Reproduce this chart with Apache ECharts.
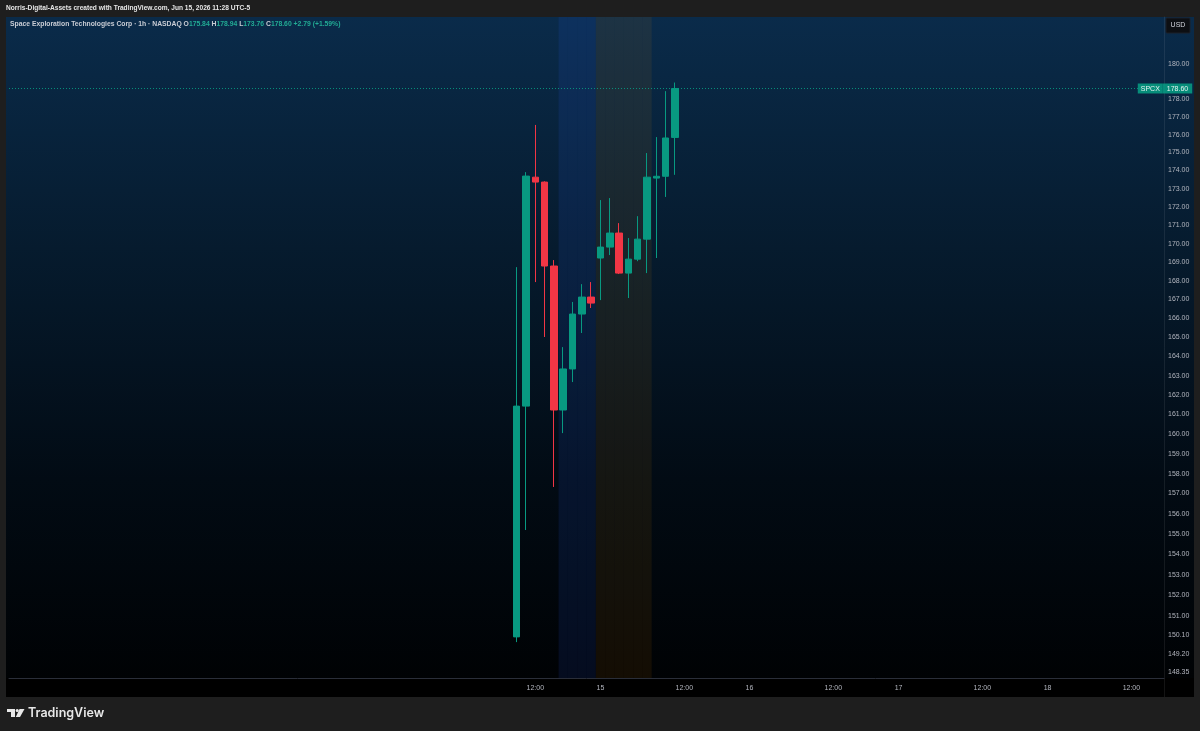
<!DOCTYPE html>
<html>
<head>
<meta charset="utf-8">
<script src="https://cdn.jsdelivr.net/npm/echarts@6/dist/echarts.min.js"></script>
<style>
html,body{margin:0;padding:0;background:#1e1e1e;}
#c{width:1200px;height:731px;}
</style>
</head>
<body>
<div id="c"></div>
<script>
// ---------- DATA ----------
const headerText = 'Norris-Digital-Assets created with TradingView.com, Jun 15, 2026 11:28 UTC-5';
const symbolName = 'Space Exploration Technologies Corp · 1h · NASDAQ';
const tickerLabel = 'SPCX';
const currencyLabel = 'USD';

// session hour slots (UTC-5, extended hours)
const sessionHours = [3, 4, 5, 6, 7, 8, 9, 10, 11, 12, 13, 14, 15, 16, 17, 18];
const axisDays = ['12', '15', '16', '17', '18'];
const firstDayFirstHour = 10;   // first traded bar on day 12
const lastDayLastHour = 15;     // right edge of the visible time scale
const leadingEmptySlots = 54;   // empty space left of the first bar

const barTimes = ['12 10:00', '12 11:00', '12 12:00', '12 13:00', '12 14:00', '12 15:00', '12 16:00', '12 17:00', '12 18:00',
                  '15 03:00', '15 04:00', '15 05:00', '15 06:00', '15 07:00', '15 08:00', '15 09:00', '15 10:00', '15 11:00'];
const opens  = [150.00, 161.43, 173.63, 173.36, 168.79, 161.23, 163.35, 166.23, 167.13, 169.22, 169.81, 170.57, 168.41, 169.16, 170.24, 173.58, 173.68, 175.84];
const highs  = [168.73, 173.91, 176.54, 173.40, 169.11, 164.49, 166.87, 167.82, 167.93, 172.37, 172.48, 171.11, 170.30, 171.49, 174.97, 175.86, 178.45, 178.94];
const lows   = [149.75, 155.19, 167.93, 165.02, 157.33, 160.05, 162.67, 165.23, 166.55, 166.97, 169.38, 168.36, 167.08, 169.05, 168.41, 169.22, 172.54, 173.76];
const closes = [161.43, 173.69, 173.36, 168.79, 161.23, 163.35, 166.23, 167.13, 166.81, 169.81, 170.57, 168.41, 169.16, 170.24, 173.63, 173.68, 175.81, 178.60];

const postMarketSlots = ['12 15:00', '12 16:00', '12 17:00', '12 18:00'];
const preMarketSlots  = ['15 03:00', '15 04:00', '15 05:00', '15 06:00', '15 07:00', '15 08:00'];

const yTickValues = [148.35, 149.20, 150.10, 151, 152, 153, 154, 155, 156, 157, 158, 159, 160, 161, 162, 163, 164, 165,
                     166, 167, 168, 169, 170, 171, 172, 173, 174, 175, 176, 177, 178, 180];
const yMin = 148.05, yMax = 182.71;

// ---------- BUILD ----------
const pad2 = h => (h < 10 ? '0' : '') + h;
const categories = [];
for (let i = 0; i < leadingEmptySlots; i++) categories.push('pad' + i);
axisDays.forEach((d, di) => {
  sessionHours.forEach(h => {
    if (di === 0 && h < firstDayFirstHour) return;
    if (di === axisDays.length - 1 && h > lastDayLastHour) return;
    categories.push(d + ' ' + pad2(h) + ':00');
  });
});

const candleData = barTimes.map((t, i) => [t, opens[i], closes[i], lows[i], highs[i]]);
const last = closes.length - 1;
const lastClose = closes[last];
const chg = closes[last] - closes[last - 1];
const chgPct = chg / closes[last - 1] * 100;

const UP = '#089981', DOWN = '#F23645';
const FONT = '"Liberation Sans", Arial, sans-serif';
const sign = v => (v >= 0 ? '+' : '') + v.toFixed(2);

const legendText =
  '{n|' + symbolName + '} ' +
  '{k|O}{v|' + opens[last].toFixed(2) + '} ' +
  '{k|H}{v|' + highs[last].toFixed(2) + '} ' +
  '{k|L}{v|' + lows[last].toFixed(2) + '} ' +
  '{k|C}{v|' + closes[last].toFixed(2) + '} ' +
  '{v|' + sign(chg) + ' (' + sign(chgPct) + '%)}';

const chart = echarts.init(document.getElementById('c'), null, {renderer: 'canvas'});

chart.setOption({
  backgroundColor: '#1e1e1e',
  animation: false,
  textStyle: {fontFamily: FONT},
  title: [
    {left: 6, top: 5, padding: 0, text: headerText,
     textStyle: {color: '#e6e6e6', fontSize: 6.6, fontWeight: 'bold', fontFamily: FONT}},
    {left: 10, top: 21, padding: 0, text: legendText,
     textStyle: {fontSize: 6.8, fontFamily: FONT,
       rich: {
         n: {color: '#c9ccd4', fontSize: 6.8, fontFamily: FONT},
         k: {color: '#c9ccd4', fontSize: 6.8, fontFamily: FONT},
         v: {color: '#22ab94', fontSize: 6.8, fontFamily: FONT}
       }}}
  ],
  graphic: [
    {type: 'rect', z: -10, silent: true, shape: {x: 6, y: 17, width: 1188, height: 661},
     style: {fill: new echarts.graphic.LinearGradient(0, 0, 0, 1, [
       {offset: 0, color: '#0a2b4a'},
       {offset: 0.35, color: '#061b2e'},
       {offset: 0.7, color: '#020b14'},
       {offset: 1, color: '#000204'}
     ])}},
    {type: 'rect', z: -10, silent: true, shape: {x: 6, y: 678, width: 1188, height: 19}, style: {fill: '#000000'}},
    {type: 'line', z: -5, silent: true, shape: {x1: 1164.5, y1: 678, x2: 1164.5, y2: 697}, style: {stroke: 'rgba(255,255,255,0.08)', lineWidth: 1}},
    {type: 'rect', silent: true, shape: {x: 1166, y: 18, width: 24, height: 15, r: 1}, style: {fill: '#0d0f13', stroke: '#1c2028'}},
    {type: 'text', silent: true, x: 1178, y: 25.5, style: {text: currencyLabel, fill: '#d1d4dc', font: '7px ' + FONT, align: 'center', verticalAlign: 'middle'}},
    // TradingView logo
    {type: 'rect', silent: true, shape: {x: 7, y: 709, width: 8, height: 3}, style: {fill: '#e8e8e8'}},
    {type: 'rect', silent: true, shape: {x: 11, y: 709, width: 4, height: 8}, style: {fill: '#e8e8e8'}},
    {type: 'circle', silent: true, shape: {cx: 17.2, cy: 710.5, r: 1.6}, style: {fill: '#e8e8e8'}},
    {type: 'polygon', silent: true, shape: {points: [[19.5, 709], [24.5, 709], [20, 717], [15.8, 717]]}, style: {fill: '#e8e8e8'}},
    {type: 'text', silent: true, x: 28, y: 713.5, style: {text: 'TradingView', fill: '#e8e8e8', font: '600 12.5px Inter, "Open Sans", sans-serif', verticalAlign: 'middle'}}
  ],
  grid: {left: 9, right: 36, top: 17, bottom: 53, containLabel: false, outerBoundsMode: 'none'},
  xAxis: {
    type: 'category',
    data: categories,
    boundaryGap: true,
    axisLine: {show: true, lineStyle: {color: '#2a2e39', width: 1}},
    axisTick: {show: false},
    splitLine: {show: false},
    axisLabel: {
      color: '#b2b5be', fontSize: 7, fontFamily: FONT, margin: 7,
      interval: (idx, val) => /\s(03|12):00$/.test(val),
      formatter: val => {
        const m = /^(\d+)\s(\d\d):00$/.exec(val);
        if (!m) return '';
        if (m[2] === '03') return m[1];
        if (m[2] === '12') return '12:00';
        return '';
      }
    }
  },
  yAxis: [
    {
      type: 'log', logBase: 10, min: yMin, max: yMax, position: 'right', scale: true,
      axisLine: {show: true, lineStyle: {color: 'rgba(255,255,255,0.08)', width: 1}},
      axisTick: {show: false},
      splitLine: {show: false},
      axisLabel: {customValues: yTickValues, formatter: v => Number(v).toFixed(2),
                  color: '#b2b5be', fontSize: 7, fontFamily: FONT, margin: 4}
    },
    {type: 'value', min: 0, max: 1, show: false}
  ],
  series: [
    {
      name: 'Post-market', type: 'bar', yAxisIndex: 1, silent: true, z: 1,
      barWidth: '100%', barGap: '-100%',
      itemStyle: {color: 'rgba(41,98,255,0.11)'},
      data: postMarketSlots.map(s => [s, 1])
    },
    {
      name: 'Pre-market', type: 'bar', yAxisIndex: 1, silent: true, z: 1,
      barWidth: '100%', barGap: '-100%',
      itemStyle: {color: 'rgba(255,152,0,0.08)'},
      data: preMarketSlots.map(s => [s, 1])
    },
    {
      name: tickerLabel, type: 'candlestick', yAxisIndex: 0, z: 3,
      barWidth: 7,
      encode: {x: 0, y: [1, 2, 3, 4]},
      itemStyle: {color: UP, color0: DOWN, borderColor: UP, borderColor0: DOWN, borderWidth: 1},
      data: candleData,
      markLine: {
        silent: true, symbol: 'none', animation: false,
        lineStyle: {type: [1, 2], color: UP, width: 1, opacity: 0.9},
        label: {
          show: true, position: 'end', align: 'center', distance: [1, 0],
          formatter: '{a|' + tickerLabel + '}{b|' + lastClose.toFixed(2) + '}',
          rich: {
            a: {backgroundColor: UP, color: '#ffffff', fontSize: 7, fontFamily: FONT, padding: [2, 3, 1, 3], lineHeight: 10},
            b: {backgroundColor: UP, color: '#ffffff', fontSize: 7, fontFamily: FONT, padding: [2, 4, 1, 4], lineHeight: 10}
          }
        },
        emphasis: {disabled: true},
        data: [{yAxis: lastClose}]
      }
    }
  ]
});
</script>
</body>
</html>
